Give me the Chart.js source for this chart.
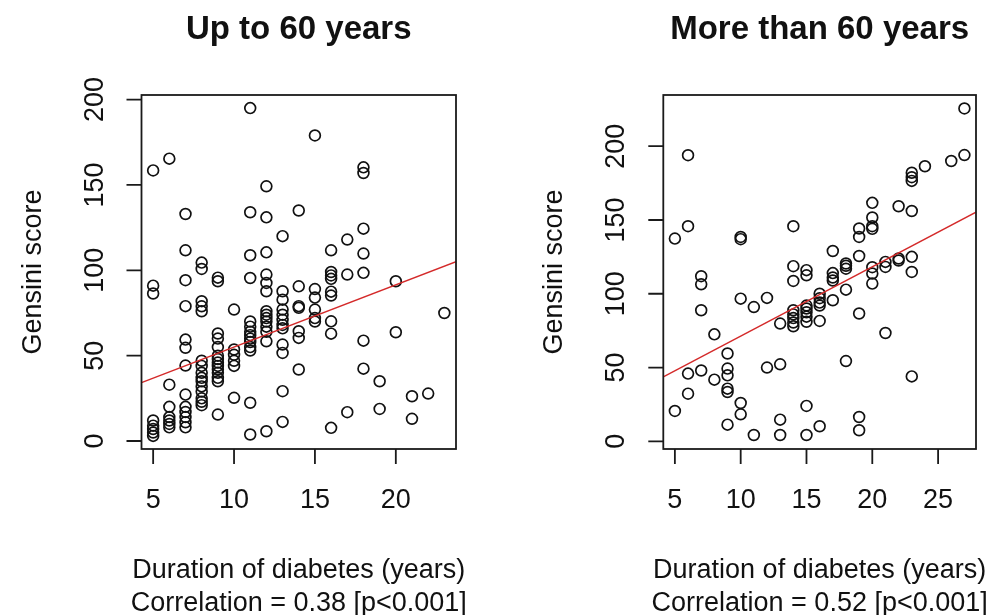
<!DOCTYPE html>
<html>
<head>
<meta charset="utf-8">
<script src="https://cdn.jsdelivr.net/npm/chart.js@4/dist/chart.umd.min.js"></script>
<style>
  html, body { margin: 0; padding: 0; background: #ffffff; }
  #wrap { position: relative; width: 1004px; height: 615px; overflow: hidden; background: #ffffff; }
  canvas { position: absolute; top: 0; }
  #left { left: 0; }
  #right { left: 502px; }
</style>
</head>
<body>
<div id="wrap">
  <canvas id="left" width="502" height="615"></canvas>
  <canvas id="right" width="502" height="615"></canvas>
</div>
<script>
// ---- Patients up to 60 years: duration of diabetes (years) and Gensini scores at each duration
const youngDuration = [5, 6, 7, 8, 9, 10, 11, 12, 13, 14, 15, 16, 17, 18, 19, 20, 21, 22, 23];
const youngScores = [
  [158.5, 91, 86.4, 12, 9, 7, 5, 3],
  [165.4, 33, 20, 14, 12, 10, 8],
  [133, 111.7, 94.2, 79, 59.4, 54.6, 44.2, 27.2, 20, 17, 14, 11, 8],
  [104.5, 100.8, 81.9, 78.9, 76, 47, 44, 40, 37, 35, 32, 29, 25, 23, 21],
  [95.7, 93.6, 63, 60, 55, 50, 48, 46, 44, 42, 40, 37, 35, 15.5],
  [77, 53.6, 50.5, 47, 44, 25.3],
  [195, 134, 108.8, 95.5, 70, 67, 64, 62, 60, 58, 55, 53, 22.4, 3.8],
  [149.2, 131, 110.5, 97.5, 92.6, 87.7, 76, 74, 72, 70, 67, 64, 58.4, 5.7],
  [120, 87.7, 82.8, 77, 74, 71, 68, 66, 56.5, 51.6, 29.2, 11.2],
  [135, 90.6, 79, 78, 64.3, 60.4, 41.9],
  [179, 89, 84, 77, 72, 70],
  [111.7, 99, 97, 95, 87.5, 85.2, 70.1, 62.9, 7.7],
  [118, 97.5, 16.9],
  [160.3, 157, 124.4, 109.8, 98.5, 58.8, 42.4],
  [35, 18.8],
  [93.6, 63.7],
  [26.2, 13],
  [27.8],
  [75]
];
// fitted regression line, evaluated at both ends of the x axis
const youngFitDuration = [4.28, 23.72];
const youngFitScore = [34.2, 105.0];

// ---- Patients older than 60 years
const olderDuration = [5, 6, 7, 8, 9, 10, 11, 12, 13, 14, 15, 16, 17, 18, 19, 20, 21, 22, 23, 24, 26, 27];
const olderScores = [
  [137.4, 20.6],
  [193.9, 145.8, 45.9, 32.3],
  [111.9, 106.4, 88.8, 48],
  [72.5, 41.8],
  [59.5, 49.3, 44.7, 35.7, 33.4, 11.3],
  [138.5, 137, 96.7, 26, 18.3],
  [91, 4.3],
  [97.2, 50],
  [79.8, 52.2, 14.7, 4.3],
  [145.8, 118.7, 108.7, 88.8, 86, 83.5, 80.5, 78],
  [116, 112.5, 92, 90, 87.5, 84.5, 81, 24, 4.3],
  [100, 97, 94, 92, 81.6, 10.2],
  [129, 114, 111, 109, 95.6],
  [120.5, 119, 117, 102.8, 54.4],
  [144.2, 138.5, 125.6, 86.6, 16.5, 7.5],
  [161.6, 151.7, 145.8, 144, 118, 113.7, 106.9],
  [121.6, 118.2, 73.4],
  [159.3, 123.9, 122.5],
  [182, 179, 176.5, 156.1, 125, 114.8, 44],
  [186.4],
  [190],
  [225.6, 194]
];
const olderFitDuration = [4.12, 27.88];
const olderFitScore = [43.6, 155.3];

// ---- Axis ticks and texts
const youngXTicks = [5, 10, 15, 20];
const olderXTicks = [5, 10, 15, 20, 25];
const scoreTicks = [0, 50, 100, 150, 200];
const panelTitles = ['Up to 60 years', 'More than 60 years'];
const xTitle = 'Duration of diabetes (years)';
const yTitle = 'Gensini score';
const correlationTexts = ['Correlation = 0.38 [p<0.001]', 'Correlation = 0.52 [p<0.001]'];

const FONT = '"Liberation Sans", Arial, Helvetica, sans-serif';
const INK = '#111111';

function toPoints(durations, scores) {
  const pts = [];
  durations.forEach((d, i) => scores[i].forEach(s => pts.push({ x: d, y: s })));
  return pts;
}
function pair(xs, ys) { return xs.map((x, i) => ({ x: x, y: ys[i] })); }

// Base-graphics style frame: box, outward ticks, rotated y labels, titles
const baseFrame = {
  id: 'baseFrame',
  afterDraw(chart, args, o) {
    const { ctx, chartArea: a, scales: { x, y } } = chart;
    const cx = (a.left + a.right) / 2;
    const cy = (a.top + a.bottom) / 2;
    ctx.save();
    ctx.strokeStyle = '#1a1a1a';
    ctx.lineWidth = 1.8;
    ctx.strokeRect(a.left, a.top, a.right - a.left, a.bottom - a.top);

    const tick = 15;
    ctx.beginPath();
    o.xTicks.forEach(v => {
      const p = x.getPixelForValue(v);
      ctx.moveTo(p, a.bottom); ctx.lineTo(p, a.bottom + tick);
    });
    o.yTicks.forEach(v => {
      const p = y.getPixelForValue(v);
      ctx.moveTo(a.left, p); ctx.lineTo(a.left - tick, p);
    });
    ctx.stroke();

    ctx.fillStyle = INK;
    ctx.textAlign = 'center';
    ctx.textBaseline = 'alphabetic';
    ctx.font = '27px ' + FONT;
    o.xTicks.forEach(v => {
      ctx.fillText(String(v), x.getPixelForValue(v), a.bottom + 59);
    });
    o.yTicks.forEach(v => {
      ctx.save();
      ctx.translate(a.left - 39, y.getPixelForValue(v));
      ctx.rotate(-Math.PI / 2);
      ctx.fillText(String(v), 0, 0);
      ctx.restore();
    });

    ctx.fillText(xTitle, cx, a.bottom + 129);
    ctx.fillText(o.note, cx, a.bottom + 162);

    ctx.save();
    ctx.translate(a.left - 101, cy);
    ctx.rotate(-Math.PI / 2);
    ctx.fillText(yTitle, 0, 0);
    ctx.restore();

    ctx.font = 'bold 33px ' + FONT;
    ctx.fillText(o.title, cx, 39);
    ctx.restore();
  }
};

function makePanel(id, pts, fit, xr, yr, pad, opts) {
  return new Chart(document.getElementById(id), {
    type: 'scatter',
    data: {
      datasets: [
        {
          type: 'line',
          data: fit,
          borderColor: '#d42a2a',
          borderWidth: 1.4,
          pointRadius: 0,
          fill: false,
          order: 0
        },
        {
          data: pts,
          pointStyle: 'circle',
          pointRadius: 5.4,
          borderWidth: 1.7,
          borderColor: INK,
          backgroundColor: 'rgba(0,0,0,0)',
          clip: false,
          order: 1
        }
      ]
    },
    options: {
      responsive: false,
      animation: false,
      devicePixelRatio: 1,
      events: [],
      layout: { padding: pad },
      plugins: {
        legend: { display: false },
        tooltip: { enabled: false },
        title: { display: false },
        baseFrame: opts
      },
      scales: {
        x: { type: 'linear', min: xr[0], max: xr[1], display: false },
        y: { type: 'linear', min: yr[0], max: yr[1], display: false }
      }
    },
    plugins: [baseFrame]
  });
}

makePanel('left',
  toPoints(youngDuration, youngScores),
  pair(youngFitDuration, youngFitScore),
  [4.28, 23.72], [-4.68, 202.68],
  { left: 141.5, right: 46, top: 95, bottom: 166 },
  { xTicks: youngXTicks, yTicks: scoreTicks, title: panelTitles[0], note: correlationTexts[0] });

makePanel('right',
  toPoints(olderDuration, olderScores),
  pair(olderFitDuration, olderFitScore),
  [4.12, 27.88], [-5.2, 234.7],
  { left: 161.3, right: 28, top: 95, bottom: 166 },
  { xTicks: olderXTicks, yTicks: scoreTicks, title: panelTitles[1], note: correlationTexts[1] });
</script>
</body>
</html>
